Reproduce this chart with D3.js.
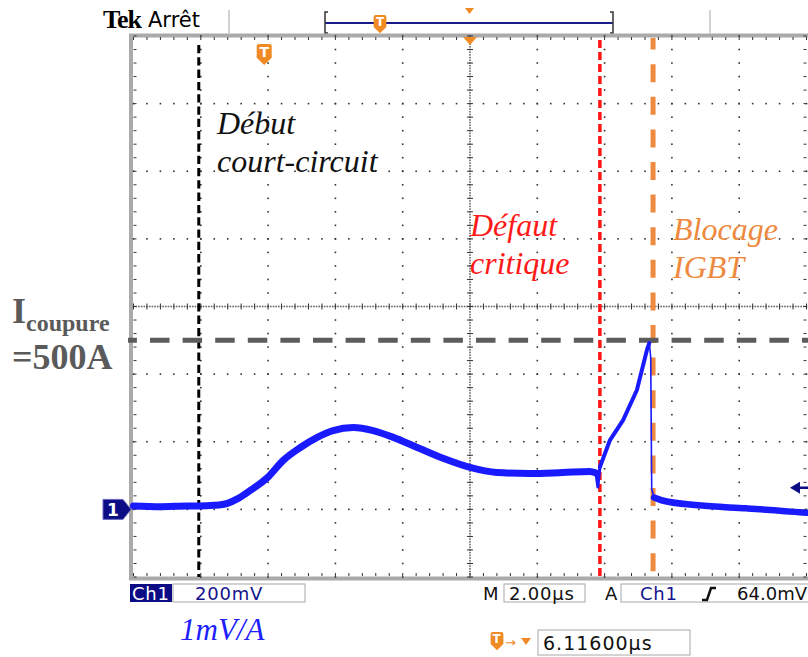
<!DOCTYPE html>
<html>
<head>
<meta charset="utf-8">
<script src="https://cdn.jsdelivr.net/npm/d3@7"></script>
<style>
	body { margin: 0; background: #fff; }
	svg text { font-family: "DejaVu Sans", sans-serif; }
</style>
</head>
<body>
<div id="scope"></div>
<script>

// Ch1 trace: time in µs from the left edge, current in A (1mV/A, 200mV/div)
const traceTime = [0, 0.8, 1.6, 1.94, 2.4, 2.79, 3.1, 3.47, 3.98, 4.45, 4.96, 5.46, 5.93, 6.53, 7.12, 7.72, 8.43, 9.2, 10.0, 10.8,
	11.78, 12.76, 13.56, 13.74, 13.80, 13.86, 14.16, 14.55, 14.96, 15.26, 15.33, 15.37, 15.40, 15.47, 15.69, 16.79, 18.22, 19.88, 20];
const traceCurrent = [10, 8, 10, 10, 12, 18, 32, 56, 94, 145, 183, 213, 233, 242, 233, 213, 183, 151, 124, 109,
	106, 109, 112, 108, 66, 125, 205, 264, 353, 472, 492, 450, 60, 35, 27, 12, 3, -9, -10];

// events marked on the screen
const eventNames = [["Début", "court-circuit"], ["Défaut", "critique"], ["Blocage", "IGBT"]];
const eventTimes = [1.94, 13.86, 15.44];

const cutoffLabel = ["I", "coupure", "=500A"];
const cutoffCurrent = 500;
const triggerLevel = 64;     // A
const triggerTime = 3.884;   // µs, 6.116µs before the centre

const readoutLeft = ["Ch1", "200mV"];
const readoutRight = ["M", "2.00µs", "A", "Ch1", "64.0mV"];
const triggerDelay = "6.11600µs";
const probeScale = "1mV/A";


class ScopeVis {

	constructor(parentElement) {
		this.parentElement = parentElement;
		this.initVis();
	}

	initVis() {
		let vis = this;

		vis.width = 808;
		vis.height = 657;

		vis.svg = d3.select("#" + vis.parentElement).append("svg")
			.attr("width", vis.width)
			.attr("height", vis.height);

		// 10 x 2µs, 8 x 200A, ground three divisions under the centre
		vis.x = d3.scaleLinear().domain([0, 20]).range([133.5, 806.5]);
		vis.y = d3.scaleLinear().domain([-200, 1400]).range([577, 36]);

		vis.drawHeader();
		vis.drawGrid();
		vis.drawMarkers();
		vis.drawTrace();
		vis.drawReadouts();
	}

	drawHeader() {
		let vis = this;
		let g = vis.svg.append("g");

		g.append("text").attr("x", 103).attr("y", 28)
			.style("font-family", "Liberation Serif").style("font-weight", "bold")
			.style("font-size", "26px").style("letter-spacing", "-1px")
			.text("Tek");
		g.append("text").attr("x", 148).attr("y", 27)
			.style("font-size", "21px").text("Arrêt");

		[229, 710].forEach(x => {
			g.append("line").attr("x1", x).attr("x2", x).attr("y1", 10).attr("y2", 33)
				.attr("stroke", "#c4c4c4").attr("stroke-width", 1.5);
		});

		// record view bar
		g.append("line").attr("x1", 325).attr("x2", 613).attr("y1", 23).attr("y2", 23)
			.attr("stroke", "#1c1c8c").attr("stroke-width", 2);
		g.append("path").attr("d", "M328,12 H325 V33 H328 M610,12 H613 V33 H610")
			.attr("fill", "none").attr("stroke", "#333").attr("stroke-width", 1.5);
		g.append("path").attr("d", "M465,8 L474,8 L469.5,14 Z").attr("fill", "#f08a24");
		vis.triggerIcon(g, 380, 15, 0.85);
	}

	triggerIcon(g, cx, top, s) {
		let w = 15 * s, h = 19 * s;
		g.append("path")
			.attr("d", `M${cx - w / 2},${top + 2} q0,-2 2,-2 h${w - 4} q2,0 2,2 v${h * 0.62} l${-w / 2},${h * 0.38} l${-w / 2},${-h * 0.38} Z`)
			.attr("fill", "#f08a24");
		g.append("text").attr("x", cx).attr("y", top + h * 0.7)
			.attr("text-anchor", "middle").attr("fill", "#fff")
			.style("font-size", (14 * s) + "px").style("font-weight", "bold")
			.text("T");
	}

	drawGrid() {
		let vis = this;
		let g = vis.svg.append("g");
		let [x0, x1] = vis.x.range();
		let [y0, y1] = [vis.y(-200), vis.y(1400)];
		let cx = vis.x(10), cy = vis.y(600);

		// frame
		g.append("rect").attr("x", x0 - 2.5).attr("y", y1 - 0.5).attr("width", x1 - x0 + 6).attr("height", y0 - y1 + 2)
			.attr("fill", "none").attr("stroke", "#aaa").attr("stroke-width", 4);

		let dot = (x, y, c) => g.append("rect").attr("x", x - 0.8).attr("y", y - 0.8)
			.attr("width", 1.6).attr("height", 1.6).attr("fill", c || "#333");

		let minorT = d3.range(0, 20.001, 0.4);
		let minorI = d3.range(-200, 1400.1, 40);

		// dotted divisions
		vis.x.ticks(10).slice(1, -1).filter(t => t !== 10).forEach(t => {
			minorI.forEach(v => dot(vis.x(t), vis.y(v)));
		});
		vis.y.ticks(8).slice(1, -1).filter(v => v !== 600).forEach(v => {
			minorT.forEach(t => dot(vis.x(t), vis.y(v)));
		});

		// centre lines, finer dots plus small ticks
		d3.range(0, 20.001, 0.08).forEach(t => dot(vis.x(t), cy, "#666"));
		d3.range(-200, 1400.1, 8).forEach(v => dot(cx, vis.y(v), "#666"));
		minorT.forEach(t => {
			g.append("line").attr("x1", vis.x(t)).attr("x2", vis.x(t)).attr("y1", cy - 3).attr("y2", cy + 3)
				.attr("stroke", "#333").attr("stroke-width", 1);
		});
		minorI.forEach(v => {
			g.append("line").attr("x1", cx - 3).attr("x2", cx + 3).attr("y1", vis.y(v)).attr("y2", vis.y(v))
				.attr("stroke", "#333").attr("stroke-width", 1);
		});

		// ticks on the frame
		minorT.forEach(t => {
			g.append("line").attr("x1", vis.x(t)).attr("x2", vis.x(t)).attr("y1", y1 + 1).attr("y2", y1 + 4)
				.attr("stroke", "#333");
			g.append("line").attr("x1", vis.x(t)).attr("x2", vis.x(t)).attr("y1", y0 - 4).attr("y2", y0 - 1)
				.attr("stroke", "#333");
		});
		minorI.forEach(v => {
			g.append("line").attr("x1", x0).attr("x2", x0 + 3).attr("y1", vis.y(v)).attr("y2", vis.y(v))
				.attr("stroke", "#333");
			g.append("line").attr("x1", x1 - 3).attr("x2", x1).attr("y1", vis.y(v)).attr("y2", vis.y(v))
				.attr("stroke", "#333");
		});

		// trigger position on top of the screen
		g.append("path").attr("d", `M${cx - 7},${y1 + 1} L${cx + 7},${y1 + 1} L${cx},${y1 + 9} Z`).attr("fill", "#f08a24");
		vis.triggerIcon(g, vis.x(triggerTime), 44, 1);
	}

	drawMarkers() {
		let vis = this;
		let g = vis.svg.append("g");
		let bottom = vis.y(-200);

		let styles = [
			{ color: "#000", width: 3, dash: "8.3,4", top: 45, offset: 0 },
			{ color: "#ff1414", width: 3.5, dash: "8,4", top: 40, offset: 0 },
			{ color: "#ee8a40", width: 5, dash: "18,14.6", top: 38, offset: 6.4 }
		];

		eventTimes.forEach((t, i) => {
			let s = styles[i];
			g.append("line").attr("x1", vis.x(t)).attr("x2", vis.x(t)).attr("y1", s.top).attr("y2", bottom)
				.attr("stroke", s.color).attr("stroke-width", s.width)
				.attr("stroke-dasharray", s.dash).attr("stroke-dashoffset", s.offset);
		});

		// labels
		let labelPos = [[217, 134], [470, 236], [673, 240]];
		let labelColor = ["#111", "#ff1a1a", "#ee8a40"];
		eventNames.forEach((lines, i) => {
			let txt = g.append("text").attr("x", labelPos[i][0]).attr("y", labelPos[i][1])
				.attr("fill", labelColor[i])
				.style("font-family", "Liberation Serif").style("font-style", "italic").style("font-size", "32px");
			lines.forEach((l, j) => txt.append("tspan").attr("x", labelPos[i][0]).attr("dy", j ? 38 : 0).text(l));
		});

		// cut-off current
		g.append("line").attr("x1", 128).attr("x2", 808).attr("y1", vis.y(cutoffCurrent)).attr("y2", vis.y(cutoffCurrent))
			.attr("stroke", "#5c5c5c").attr("stroke-width", 5)
			.attr("stroke-dasharray", "19.5,13.1").attr("stroke-dashoffset", 10.6);

		let lab = g.append("text").attr("x", 12).attr("y", 323).attr("fill", "#5a5a5a")
			.style("font-family", "Liberation Serif").style("font-weight", "bold").style("font-size", "36px");
		lab.append("tspan").text(cutoffLabel[0]);
		lab.append("tspan").attr("dy", 8).style("font-size", "24px").text(cutoffLabel[1]);
		g.append("text").attr("x", 12).attr("y", 369).attr("fill", "#5a5a5a")
			.style("font-family", "Liberation Serif").style("font-weight", "bold").style("font-size", "36px")
			.text(cutoffLabel[2]);
	}

	drawTrace() {
		let vis = this;
		let pts = d3.zip(traceTime, traceCurrent);

		vis.line = d3.line()
			.curve(d3.curveMonotoneX)
			.x(d => vis.x(d[0]))
			.y(d => vis.y(d[1]));
		vis.straight = d3.line()
			.x(d => vis.x(d[0]))
			.y(d => vis.y(d[1]));

		vis.svg.append("path").datum(pts)
			.attr("d", vis.straight)
			.attr("fill", "none").attr("stroke", "#1a1aff").attr("stroke-width", 1.6);

		// noisy parts drawn as a wider band, the ramp a bit thinner, the turn-off edge stays thin
		[[0, 23, 7, vis.line], [23, 25, 3, vis.straight], [25, 30, 4, vis.straight], [33, pts.length - 1, 6.5, vis.line]]
			.forEach(([a, b, w, gen]) => {
				vis.svg.append("path").datum(pts.slice(a, b + 1))
					.attr("d", gen)
					.attr("fill", "none").attr("stroke", "#1a1aff").attr("stroke-width", w)
					.attr("stroke-linejoin", "round").attr("stroke-linecap", "round");
			});

		// ground marker
		let gy = vis.y(0);
		vis.svg.append("path")
			.attr("d", `M103,${gy - 10} H123 L131,${gy} L123,${gy + 10} H103 Z`)
			.attr("fill", "#0c0c84").attr("stroke", "#6c6cc0").attr("stroke-width", 1);
		vis.svg.append("text").attr("x", 113).attr("y", gy + 6.5).attr("text-anchor", "middle")
			.attr("fill", "#fff").style("font-size", "17px").style("font-weight", "bold").text("1");

		// trigger level
		let ty = vis.y(triggerLevel);
		vis.svg.append("path").attr("d", `M790,${ty} L800,${ty - 6} L800,${ty + 6} Z`).attr("fill", "#0c0c84");
		vis.svg.append("line").attr("x1", 799).attr("x2", 808).attr("y1", ty).attr("y2", ty)
			.attr("stroke", "#0c0c84").attr("stroke-width", 2.5);
	}

	drawReadouts() {
		let vis = this;
		let g = vis.svg.append("g").style("font-size", "18px").style("letter-spacing", "0.8px");
		let base = 600;

		g.append("rect").attr("x", 130).attr("y", 584).attr("width", 42).attr("height", 18).attr("fill", "#0c0c84");
		g.append("text").attr("x", 132).attr("y", base).attr("fill", "#fff").text(readoutLeft[0]);
		g.append("rect").attr("x", 173).attr("y", 584).attr("width", 132).attr("height", 18)
			.attr("fill", "#fff").attr("stroke", "#a8a8a8");
		g.append("text").attr("x", 195).attr("y", base).attr("fill", "#14148c").text(readoutLeft[1]);

		g.append("text").attr("x", 483).attr("y", base).attr("fill", "#111").text(readoutRight[0]);
		g.append("rect").attr("x", 504).attr("y", 584).attr("width", 81).attr("height", 18)
			.attr("fill", "#fff").attr("stroke", "#a8a8a8");
		g.append("text").attr("x", 509).attr("y", base).attr("fill", "#111").text(readoutRight[1]);
		g.append("text").attr("x", 605).attr("y", base).attr("fill", "#111").text(readoutRight[2]);
		g.append("rect").attr("x", 621).attr("y", 584).attr("width", 190).attr("height", 18)
			.attr("fill", "#fff").attr("stroke", "#a8a8a8");
		g.append("text").attr("x", 640).attr("y", base).attr("fill", "#14148c").text(readoutRight[3]);
		g.append("path").attr("d", `M702,${base} H707 L711,${base - 12} H716`)
			.attr("fill", "none").attr("stroke", "#111").attr("stroke-width", 2.5);
		g.append("text").attr("x", 807).attr("y", base).attr("text-anchor", "end")
			.style("letter-spacing", "0px").attr("fill", "#111").text(readoutRight[4]);

		g.append("text").attr("x", 180).attr("y", 640).attr("fill", "#2020ff")
			.style("font-family", "Liberation Serif").style("font-style", "italic").style("font-size", "31px")
			.style("letter-spacing", "0px").text(probeScale);

		vis.triggerIcon(g, 497, 632, 0.85);
		g.append("text").attr("x", 505).attr("y", 647).attr("fill", "#f08a24").style("font-size", "13px").text("→");
		g.append("path").attr("d", "M521,638 L531,638 L526,645 Z").attr("fill", "#f08a24");
		g.append("rect").attr("x", 538).attr("y", 630).attr("width", 152).attr("height", 25)
			.attr("fill", "#fff").attr("stroke", "#a8a8a8");
		g.append("text").attr("x", 543).attr("y", 650).attr("fill", "#111").style("font-size", "19px")
			.style("letter-spacing", "1px").text(triggerDelay);
	}
}

new ScopeVis("scope");
</script>
</body>
</html>
